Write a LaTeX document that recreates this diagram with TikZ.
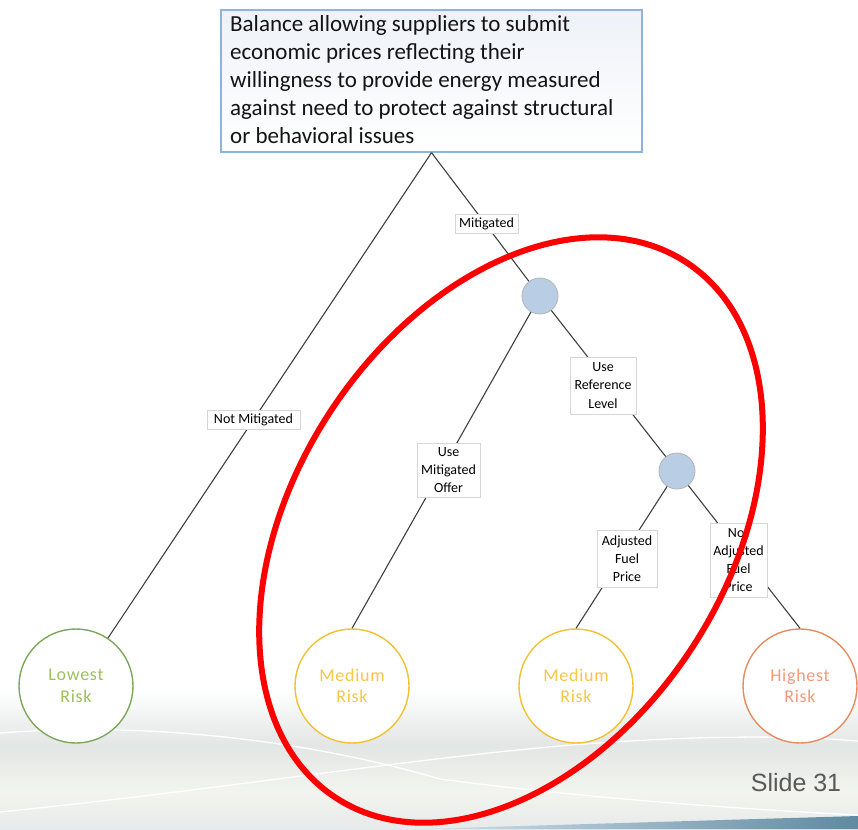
\documentclass[tikz,border=0pt]{standalone}
\usepackage{fontspec}
\setmainfont{Carlito}
\newfontfamily\slidefont{Liberation Sans}
\usetikzlibrary{calc}

\definecolor{boxline}{HTML}{8DB3E2}
\definecolor{boxtint}{HTML}{EEF2F8}
\definecolor{decfill}{HTML}{B9CDE5}
\definecolor{decline}{HTML}{B4B4B4}
\definecolor{connline}{HTML}{404040}
\definecolor{tagline}{HTML}{D6D6D6}
\definecolor{lowline}{HTML}{7DA85C}
\definecolor{lowtext}{HTML}{9DBF5E}
\definecolor{medline}{HTML}{F0C232}
\definecolor{medtext}{HTML}{F8C548}
\definecolor{highline}{HTML}{E58C62}
\definecolor{hightext}{HTML}{F09A78}
\definecolor{ringred}{HTML}{FF0000}
\definecolor{slidegray}{HTML}{595959}
\definecolor{bgA}{HTML}{E2E6E4}
\definecolor{bgB}{HTML}{F3F4EE}
\definecolor{bgC}{HTML}{E6EAEA}
\definecolor{bandlight}{HTML}{D2E2EA}
\definecolor{banddark}{HTML}{5F8AA1}

\tikzset{
  topbox/.style={draw=boxline, line width=1.3pt, top color=boxtint, bottom color=white,
    minimum width=421, minimum height=142, inner sep=0pt},
  toptext/.style={inner sep=0pt, align=left, text=black!92,
    font=\fontsize{23}{28}\selectfont},
  decision/.style={circle, draw=decline, line width=0.8pt, fill=decfill,
    minimum size=36, inner sep=0pt},
  risk/.style={circle, fill=white, line width=1.4pt, minimum size=114, inner sep=0pt,
    align=center, font=\fontsize{18}{21.5}\selectfont\addfontfeatures{LetterSpace=4}},
  lowrisk/.style={risk, draw=lowline, text=lowtext},
  medrisk/.style={risk, draw=medline, text=medtext},
  highrisk/.style={risk, draw=highline, text=hightext},
  conn/.style={draw=connline, line width=1.1pt},
  tag/.style={draw=tagline, line width=0.6pt, fill=white, inner sep=0pt, align=center,
    text=black, font=\fontsize{14}{18.2}\selectfont},
  redring/.style={draw=ringred, line width=6pt},
  slidenum/.style={inner sep=0pt, text=slidegray, font=\slidefont\fontsize{25}{30}\selectfont},
}

\begin{document}
\begin{tikzpicture}[x=1pt, y=-1pt]
  \useasboundingbox (0,0) rectangle (858,829);
  \fill[white] (0,0) rectangle (858,829);

  % soft backdrop along the bottom edge
  \shade[top color=white, bottom color=bgA] (0,690) rectangle (858,745);
  \shade[top color=bgA, bottom color=bgB] (0,745) rectangle (858,792);
  \shade[top color=bgB, bottom color=bgC] (0,792) rectangle (858,829);
  \draw[white, line width=1.3pt] (0,733) .. controls (140,722) and (300,738) .. (440,779)
        .. controls (600,800) and (760,810) .. (858,815);
  \draw[white, line width=1.3pt] (0,812) .. controls (200,792) and (400,760) .. (560,746)
        .. controls (700,734) and (800,736) .. (858,741);
  \shade[left color=bandlight, right color=banddark] (420,829) -- (858,816) -- (858,829) -- cycle;

  % question box
  \node[topbox] (top) at (431.5,81) {};
  \node[toptext, anchor=north west] (toptxt) at (230,15)
    {Balance allowing suppliers to submit\\
     economic prices reflecting their\\
     willingness to provide energy measured\\
     against need to protect against structural\\
     or behavioral issues};

  % decision points
  \node[decision] (d1) at (540,296) {};
  \node[decision] (d2) at (677,471) {};

  % outcomes
  \node[lowrisk]  (low)  at (76,686)  {Lowest\\Risk};
  \node[medrisk]  (med1) at (352,686) {Medium\\Risk};
  \node[medrisk]  (med2) at (576,686) {Medium\\Risk};
  \node[highrisk] (high) at (800,686) {Highest\\Risk};

  % branches
  \draw[conn] (top.south) -- (low);
  \draw[conn] (top.south) -- (d1);
  \draw[conn] (d1) -- (med1.north);
  \draw[conn] (d1) -- (d2);
  \draw[conn] (d2) -- (med2.north);
  \draw[conn] (d2) -- (high.north);

  % branch labels
  \node[tag, minimum width=63, minimum height=19] (tmit) at (486.5,223.5) {Mitigated};
  \node[tag, minimum width=93, minimum height=19] (tnot) at (253.5,419.5) {Not Mitigated};
  \node[tag, minimum width=63, minimum height=54] (toffer) at (448.5,470) {Use\\Mitigated\\Offer};
  \node[tag, minimum width=66, minimum height=57] (tref) at (603,385.5) {Use\\Reference\\Level};
  \node[tag, minimum width=60, minimum height=57] (tadj) at (627,558.5) {Adjusted\\Fuel\\Price};
  \node[tag, minimum width=57, minimum height=74] (tnadj) at (738.5,560) {Not\\Adjusted\\Fuel\\Price};

  % highlight ring
  \draw[redring, rotate around={56.75:(511,530)}] (511,530) ellipse [x radius=320, y radius=216];

  \node[slidenum] (snum) at (796,783) {Slide 31};
\end{tikzpicture}
\end{document}
